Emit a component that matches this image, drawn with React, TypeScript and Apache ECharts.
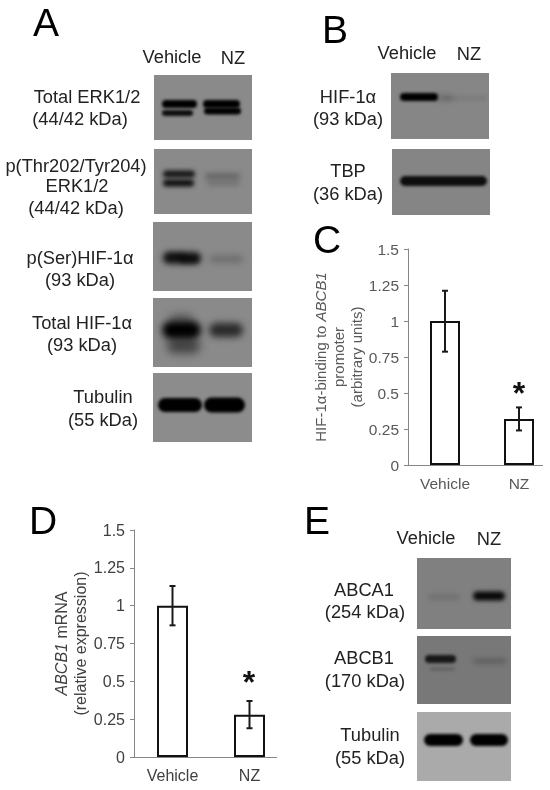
import React, { useEffect, useRef } from "react";
import * as echarts from "echarts";

const categories = ["Vehicle", "NZ"];
const yTickInterval = 0.25;
const yMax = 1.5;

const cValues = [1, 0.32];
const cErrLow = [0.787, 0.24];
const cErrHigh = [1.21, 0.4];

const dValues = [1, 0.28];
const dErrLow = [0.87, 0.19];
const dErrHigh = [1.13, 0.37];

const FONT = "'Liberation Sans', Arial, sans-serif";

// [text, centre x, centre y]
const panelLetters: [string, number, number][] = [
  ["A", 46, 22.5],
  ["B", 335, 29],
  ["C", 327, 239],
  ["D", 43, 520],
  ["E", 317, 520],
];

const blotLabels: [string, number, number][] = [
  ["Vehicle", 172, 56], ["NZ", 233, 57],
  ["Total ERK1/2", 87, 96], ["(44/42 kDa)", 80, 118],
  ["p(Thr202/Tyr204)", 76, 165], ["ERK1/2", 77, 185], ["(44/42 kDa)", 76, 207],
  ["p(Ser)HIF-1α", 80, 257], ["(93 kDa)", 80, 279],
  ["Total HIF-1α", 82, 322], ["(93 kDa)", 82, 344],
  ["Tubulin", 103, 396], ["(55 kDa)", 103, 419],
  ["Vehicle", 407, 52], ["NZ", 469, 53],
  ["HIF-1α", 348, 96], ["(93 kDa)", 348, 118],
  ["TBP", 348, 170], ["(36 kDa)", 348, 193],
  ["Vehicle", 426, 537], ["NZ", 489, 538],
  ["ABCA1", 364, 589], ["(254 kDa)", 365, 611],
  ["ABCB1", 364, 657], ["(170 kDa)", 365, 680],
  ["Tubulin", 370, 734], ["(55 kDa)", 370, 757],
];

type Band = [number, number, number, number, number, number?]; // x0, x1, cy, h, alpha, blur
type Blot = { x: number; y: number; w: number; h: number; bg: string; bands: Band[] };

const blots: Blot[] = [
  { x: 154, y: 75, w: 98, h: 65, bg: "#8a8a8a", bands: [
    [162, 197, 104, 8, 1, 1.5], [162, 193, 113, 6, 0.9, 1.6], [203, 240, 104, 8, 1, 1.5], [204, 241, 111, 7, 1, 1.5],
  ] },
  { x: 154, y: 149, w: 98, h: 65, bg: "#8a8a8a", bands: [
    [163, 195, 174, 7, 0.85, 2], [163, 194, 183, 7, 0.9, 2], [205, 240, 176, 6, 0.25, 2.5], [207, 240, 183, 6, 0.15, 2.5],
  ] },
  { x: 153, y: 222, w: 99, h: 69, bg: "#8a8a8a", bands: [
    [163, 201, 258, 12, 0.78, 3], [165, 185, 257, 8, 0.5, 2.5], [180, 199, 259, 8, 0.6, 2.5], [210, 243, 259, 7, 0.22, 3],
  ] },
  { x: 153, y: 298, w: 99, h: 69, bg: "#8a8a8a", bands: [
    [170, 192, 318, 8, 0.35, 4], [167, 200, 346, 14, 0.55, 5], [162, 201, 330, 18, 1, 3.5], [209, 243, 330, 14, 0.7, 3.5],
  ] },
  { x: 153, y: 373, w: 99, h: 69, bg: "#8c8c8c", bands: [
    [158, 202, 405, 14, 1, 1.5], [204, 245, 405, 15, 1, 1.5],
  ] },
  { x: 391, y: 73, w: 98, h: 66, bg: "#868686", bands: [
    [400, 438, 97, 8, 1, 1.8], [437, 452, 98, 4, 0.3, 3], [445, 487, 98, 3, 0.12, 2],
  ] },
  { x: 392, y: 149, w: 98, h: 66, bg: "#858585", bands: [
    [400, 487, 181, 10, 0.9, 1.8],
  ] },
  { x: 417, y: 558, w: 94, h: 71, bg: "#808080", bands: [
    [428, 460, 597, 5, 0.14, 2.5], [473, 505, 596, 9, 0.95, 2],
  ] },
  { x: 417, y: 636, w: 94, h: 68, bg: "#787878", bands: [
    [425, 456, 659, 8, 0.8, 1.8], [430, 455, 669, 3, 0.2, 1.5], [473, 506, 661, 5, 0.22, 2.5],
  ] },
  { x: 417, y: 712, w: 94, h: 69, bg: "#aaaaaa", bands: [
    [424, 463, 740, 12, 1, 1.5], [470, 508, 740, 12, 1, 1.5],
  ] },
];

function blotImage(b: Blot): string {
  const c = document.createElement("canvas");
  c.width = b.w;
  c.height = b.h;
  const ctx = c.getContext("2d")!;
  ctx.fillStyle = b.bg;
  ctx.fillRect(0, 0, b.w, b.h);
  for (const [x0, x1, cy, h, alpha, blur] of b.bands) {
    ctx.filter = `blur(${blur ?? 2}px)`;
    ctx.fillStyle = `rgba(0,0,0,${alpha})`;
    ctx.beginPath();
    (ctx as any).roundRect(x0 - b.x, cy - h / 2 - b.y, x1 - x0, h, h / 2);
    ctx.fill();
  }
  return c.toDataURL("image/png");
}

function errorSeries(low: number[], high: number[], xAxisIndex: number, yAxisIndex: number) {
  return {
    type: "custom",
    xAxisIndex,
    yAxisIndex,
    z: 10,
    silent: true,
    encode: { x: 0, y: [1, 2] },
    data: categories.map((_, i) => [i, low[i], high[i]]),
    renderItem: (_: any, api: any) => {
      const lo = api.coord([api.value(0), api.value(1)]);
      const hi = api.coord([api.value(0), api.value(2)]);
      const style = { stroke: "#1a1a1a", lineWidth: 2, fill: "none" };
      const cap = 3;
      return {
        type: "group",
        children: [
          { type: "line", shape: { x1: lo[0], y1: lo[1], x2: hi[0], y2: hi[1] }, style },
          { type: "line", shape: { x1: lo[0] - cap, y1: lo[1], x2: lo[0] + cap, y2: lo[1] }, style },
          { type: "line", shape: { x1: hi[0] - cap, y1: hi[1], x2: hi[0] + cap, y2: hi[1] }, style },
        ],
      };
    },
  };
}

function barSeries(values: number[], xAxisIndex: number, yAxisIndex: number, barWidth: number) {
  return {
    type: "bar",
    xAxisIndex,
    yAxisIndex,
    barWidth,
    silent: true,
    data: values,
    itemStyle: { color: "#ffffff", borderColor: "#111111", borderWidth: 2 },
  };
}

function yAxis(gridIndex: number, name: string, nameGap: number, size: number, nameSize: number, color: string, lineHeight: number) {
  return {
    type: "value",
    gridIndex,
    min: 0,
    max: yMax,
    interval: yTickInterval,
    name,
    nameLocation: "middle",
    nameRotate: 90,
    nameGap,
    nameTextStyle: {
      fontFamily: FONT,
      rich: {
        a: { fontFamily: FONT, fontSize: nameSize, color, lineHeight },
        i: { fontFamily: FONT, fontSize: nameSize, color, lineHeight, fontStyle: "italic" },
      },
    },
    axisLine: { show: true, lineStyle: { color: "#868686", width: 1 } },
    axisTick: { show: true, length: 4, lineStyle: { color: "#868686", width: 1 } },
    axisLabel: { fontFamily: FONT, fontSize: size, color, margin: 9 },
    splitLine: { show: false },
  };
}

function xAxis(gridIndex: number, size: number, color: string, margin: number) {
  return {
    type: "category",
    gridIndex,
    data: categories,
    axisLine: { show: false },
    axisTick: { show: false },
    axisLabel: { fontFamily: FONT, fontSize: size, color, margin },
  };
}

export default function App() {
  const ref = useRef<HTMLDivElement>(null);
  useEffect(() => {
    const chart = echarts.init(ref.current!, undefined, { renderer: "svg" });
    const graphic: any[] = [];
    for (const b of blots) {
      graphic.push({ type: "image", x: b.x, y: b.y, silent: true, style: { image: blotImage(b), x: 0, y: 0, width: b.w, height: b.h } });
    }
    for (const [text, x, y] of blotLabels) {
      graphic.push({ type: "text", x, y, silent: true, style: { text, fontFamily: FONT, fontSize: 18.3, fill: "#222222", align: "center", verticalAlign: "middle" } });
    }
    for (const [text, x, y] of panelLetters) {
      graphic.push({ type: "text", x, y, silent: true, style: { text, fontFamily: FONT, fontSize: 39, fill: "#000000", align: "center", verticalAlign: "middle" } });
    }
    // category baselines stop short of the grid's right edge
    graphic.push({ type: "line", silent: true, shape: { x1: 408, y1: 465.5, x2: 543, y2: 465.5 }, style: { stroke: "#868686", lineWidth: 1 } });
    graphic.push({ type: "line", silent: true, shape: { x1: 134, y1: 757.5, x2: 277, y2: 757.5 }, style: { stroke: "#868686", lineWidth: 1 } });
    // significance asterisks
    graphic.push({ type: "text", x: 519, y: 393, silent: true, style: { text: "*", fontFamily: FONT, fontSize: 32, fontWeight: "bold", fill: "#111111", align: "center", verticalAlign: "middle" } });
    graphic.push({ type: "text", x: 249, y: 682, silent: true, style: { text: "*", fontFamily: FONT, fontSize: 32, fontWeight: "bold", fill: "#111111", align: "center", verticalAlign: "middle" } });

    chart.setOption({
      animation: false,
      backgroundColor: "#ffffff",
      grid: [
        { left: 408, top: 249, width: 148, height: 216 },
        { left: 134, top: 530, width: 154, height: 227 },
      ],
      xAxis: [xAxis(0, 15.5, "#595959", 10), xAxis(1, 16, "#404040", 10)],
      yAxis: [
        yAxis(0, "{a|HIF-1α-binding to }{i|ABCB1}\n{a|promoter}\n{a|(arbitrary units)}", 43, 15.5, 15, "#595959", 18),
        yAxis(1, "{i|ABCB1}{a| mRNA}\n{a|(relative expression)}", 44, 16, 16, "#404040", 19),
      ],
      series: [
        barSeries(cValues, 0, 0, 30),
        errorSeries(cErrLow, cErrHigh, 0, 0),
        barSeries(dValues, 1, 1, 31),
        errorSeries(dErrLow, dErrHigh, 1, 1),
      ],
      graphic,
    });
    return () => chart.dispose();
  }, []);
  // The chart surface is wider than the page so that the rightmost grid keeps its full band width.
  return (
    <div style={{ position: "absolute", left: 0, top: 0, width: 550, height: 790, overflow: "hidden", filter: "blur(0.4px)" }}>
      <div ref={ref} style={{ width: 600, height: 790 }} />
    </div>
  );
}
